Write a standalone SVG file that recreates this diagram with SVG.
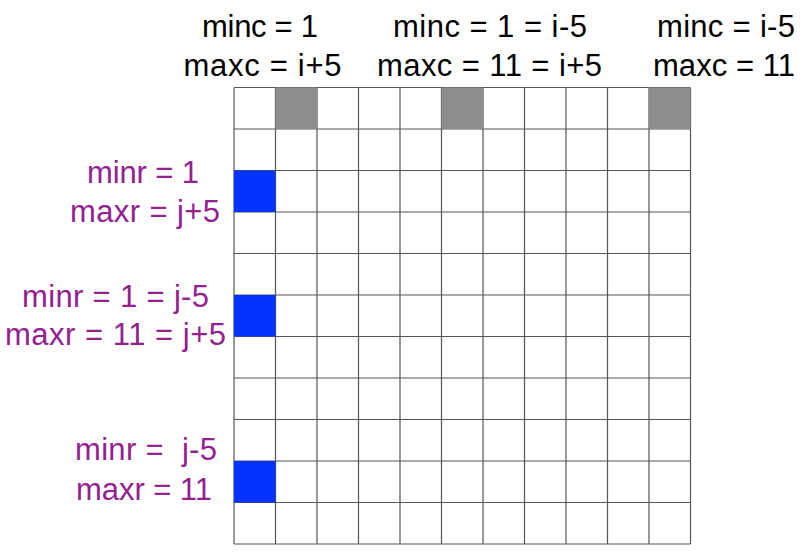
<svg xmlns="http://www.w3.org/2000/svg" width="812" height="554" viewBox="0 0 812 554">
<style>
.t{font-family:"Liberation Sans",Arial,sans-serif;font-size:31px;text-anchor:middle;fill:#000}
.p{fill:#942092}
.grid{stroke:#555;stroke-width:1.2;fill:none}
.g{fill:#8e8e8e}
.b{fill:#0433ff}
</style>
<rect width="812" height="554" fill="#fff"/>
<g id="grid">
<path class="grid" d="M234 87.5V544M275.5 87.5V544M317 87.5V544M358.5 87.5V544M400 87.5V544M441.5 87.5V544M483 87.5V544M524.5 87.5V544M566 87.5V544M607.5 87.5V544M649 87.5V544M690.5 87.5V544M234 87.5H690.5M234 129H690.5M234 170.5H690.5M234 212H690.5M234 253.5H690.5M234 295H690.5M234 336.5H690.5M234 378H690.5M234 419.5H690.5M234 461H690.5M234 502.5H690.5M234 544H690.5"/>
</g>
<g id="gray-cells">
<rect class="g" x="275.5" y="87.5" width="41.5" height="41.5"/>
<rect class="g" x="441.5" y="87.5" width="41.5" height="41.5"/>
<rect class="g" x="649" y="87.5" width="41.5" height="41.5"/>
</g>
<g id="blue-cells">
<rect class="b" x="234" y="170.5" width="41.5" height="41.5"/>
<rect class="b" x="234" y="295" width="41.5" height="41.5"/>
<rect class="b" x="234" y="461" width="41.5" height="41.5"/>
</g>
<g id="col-labels">
<text class="t" x="260" y="37" textLength="116" lengthAdjust="spacing">minc = 1</text>
<text class="t" x="262.5" y="75.5" textLength="158" lengthAdjust="spacing">maxc = i+5</text>
<text class="t" x="490" y="37" textLength="194" lengthAdjust="spacing">minc = 1 = i-5</text>
<text class="t" x="489.5" y="75.5" textLength="225" lengthAdjust="spacing">maxc = 11 = i+5</text>
<text class="t" x="726" y="37" textLength="138" lengthAdjust="spacing">minc = i-5</text>
<text class="t" x="724" y="75.5" textLength="142" lengthAdjust="spacing">maxc = 11</text>
</g>
<g id="row-labels">
<text class="t p" x="143" y="183" textLength="112" lengthAdjust="spacing">minr = 1</text>
<text class="t p" x="145" y="221.5" textLength="150" lengthAdjust="spacing">maxr = j+5</text>
<text class="t p" x="115.5" y="306.5" textLength="187" lengthAdjust="spacing">minr = 1 = j-5</text>
<text class="t p" x="115.5" y="345" textLength="221" lengthAdjust="spacing">maxr = 11 = j+5</text>
<text class="t p" x="146" y="460" textLength="142" lengthAdjust="spacing" xml:space="preserve">minr =  j-5</text>
<text class="t p" x="144" y="499.5" textLength="136" lengthAdjust="spacing">maxr = 11</text>
</g>
</svg>
